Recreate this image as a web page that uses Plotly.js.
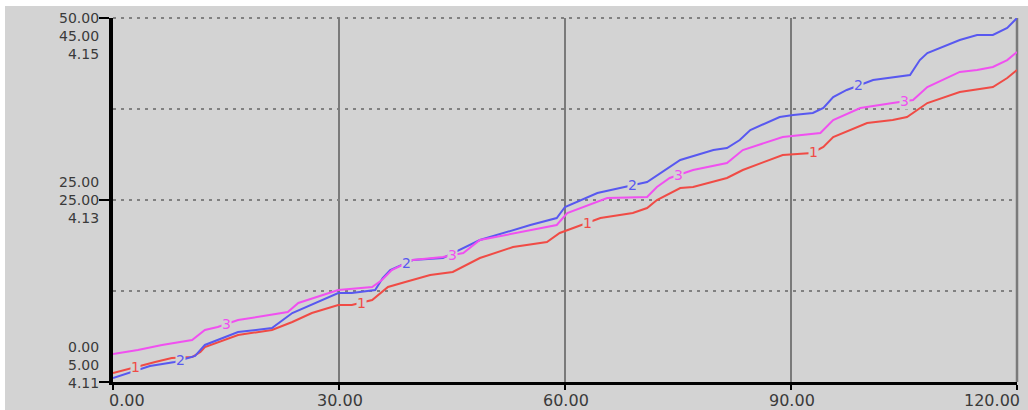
<!DOCTYPE html>
<html>
<head>
<meta charset="utf-8">
<script src="https://cdn.plot.ly/plotly-3.0.1.min.js"></script>
<style>
  html, body { margin: 0; padding: 0; background: #ffffff; width: 1028px; height: 410px; overflow: hidden; }
  #chart { position: absolute; left: 5px; top: 6px; width: 1023px; height: 404px; }
</style>
</head>
<body>
<div id="chart"></div>
<script>
// ---- data ----
const time1 = [0,2.9,5.6,7.8,10.5,11.6,12.2,16.6,21.1,23.8,26.4,29.9,31.7,34.4,36.5,38.8,42.1,45.1,48.7,53.1,57.6,59.3,61.1,64.7,69.0,70.9,72.2,75.3,77.0,81.5,83.6,88.9,92.8,94.3,95.6,100.1,103.5,105.4,108.1,112.4,116.8,118.7,120];
const series1 = [1.24,2.06,2.75,3.30,3.43,4.12,4.81,6.46,7.14,8.24,9.48,10.58,10.58,11.26,13.05,13.74,14.70,15.11,17.03,18.54,19.23,20.47,21.15,22.53,23.21,23.90,25.00,26.65,26.79,28.02,29.12,31.18,31.46,32.28,33.65,35.58,35.99,36.40,38.32,39.84,40.52,41.76,42.86];

const time2 = [0,2.3,4.9,8.2,10.9,12.2,16.6,21.1,23.8,29.9,31.7,34.8,35.8,36.8,39.8,43.8,48.7,55.4,58.9,60.0,64.3,67.3,70.9,75.3,79.7,81.5,83.2,84.6,88.5,90.3,92.9,94.3,95.6,97.4,100.9,105.8,107.1,108.1,112.4,114.7,116.8,118.7,120];
const series2 = [5.44,6.10,6.76,7.20,7.86,9.07,10.49,10.93,12.58,14.78,14.78,15.11,16.43,17.31,18.41,18.63,20.60,22.25,23.02,24.23,25.77,26.32,26.98,29.40,30.49,30.71,31.59,32.69,34.12,34.34,34.56,35.11,36.32,37.09,38.19,38.74,40.38,41.15,42.58,43.13,43.13,43.90,45.00];

const time3 = [0,3.3,6.5,10.5,12.2,13.9,16.6,21.1,23.2,24.6,29.9,34.4,35.7,37.0,39.8,43.8,46.5,48.7,55.4,58.9,60.3,65.6,70.9,72.2,73.9,77.0,81.5,83.6,88.9,93.9,95.6,99.2,103.5,106.2,108.1,112.4,114.7,116.8,118.7,120];
const series3 = [4.11308,4.11352,4.11407,4.11462,4.11571,4.11604,4.11681,4.11736,4.11769,4.11868,4.12011,4.12044,4.12121,4.12231,4.12341,4.12374,4.12418,4.12560,4.12670,4.12725,4.12857,4.13022,4.13033,4.13143,4.13242,4.13330,4.13407,4.13549,4.13692,4.13736,4.13879,4.14011,4.14066,4.14099,4.14242,4.14407,4.14429,4.14462,4.14538,4.14626];

const seriesNames = ['1','2','3'];
const labelTimes1 = [3, 33, 63, 93];
const labelTimes2 = [9, 39, 69, 99];
const labelTimes3 = [15, 45, 75, 105];

const xTickVals = [0, 30, 60, 90, 120];
const xTickText = ['0.00', '30.00', '60.00', '90.00', '120.00'];
const scale1Ticks = ['0.00', '25.00', '50.00'];
const scale2Ticks = ['5.00', '25.00', '45.00'];
const scale3Ticks = ['4.11', '4.13', '4.15'];
const yTickVals = [0, 25, 50];

// ---- styling ----
const BG = '#d3d3d3';
const colors = ['#f04b45', '#5858f0', '#f050f0'];
const txtColor = '#3a3a3a';
const fontFam = 'DejaVu Sans, sans-serif';
const gridDot = '3px,5px';

function interp(ts, vs, t) {
  for (let i = 0; i < ts.length - 1; i++) {
    if (t >= ts[i] && t <= ts[i + 1]) {
      const f = (t - ts[i]) / (ts[i + 1] - ts[i]);
      return vs[i] + f * (vs[i + 1] - vs[i]);
    }
  }
  return vs[vs.length - 1];
}

const traces = [
  { x: time1, y: series1, yaxis: 'y', mode: 'lines', line: { color: colors[0], width: 2 }, name: seriesNames[0] },
  { x: time2, y: series2, yaxis: 'y2', mode: 'lines', line: { color: colors[1], width: 2 }, name: seriesNames[1] },
  { x: time3, y: series3, yaxis: 'y3', mode: 'lines', line: { color: colors[2], width: 2 }, name: seriesNames[2] }
];

const annotations = [];
// series number labels
[[labelTimes1, time1, series1, 'y'], [labelTimes2, time2, series2, 'y2'], [labelTimes3, time3, series3, 'y3']].forEach((s, k) => {
  s[0].forEach(t => {
    annotations.push({
      x: t, y: interp(s[1], s[2], t), xref: 'x', yref: s[3],
      text: seriesNames[k], showarrow: false,
      font: { family: fontFam, size: 14, color: colors[k] },
      bgcolor: BG, borderpad: 0
    });
  });
});
// y tick labels (three stacked scales, one block per tick)
yTickVals.forEach((v, i) => {
  const txt = [scale1Ticks[i], scale2Ticks[i], scale3Ticks[i]].join('<br>');
  let yanchor = 'middle', yshift = 0;
  if (i === yTickVals.length - 1) { yanchor = 'top'; yshift = 10; }
  if (i === 0) { yanchor = 'bottom'; yshift = -11; }
  annotations.push({
    x: 0, xref: 'paper', y: v, yref: 'y',
    xanchor: 'right', yanchor: yanchor, xshift: -12, yshift: yshift,
    text: txt, showarrow: false, align: 'right',
    font: { family: fontFam, size: 14, color: txtColor }
  });
});
// x tick labels
xTickVals.forEach((v, i) => {
  let xanchor = 'center', xshift = 1;
  if (i === 0) { xanchor = 'left'; xshift = -6; }
  if (i === xTickVals.length - 1) { xanchor = 'right'; xshift = 5; }
  annotations.push({
    x: v, xref: 'x', y: 0, yref: 'paper',
    xanchor: xanchor, yanchor: 'middle', xshift: xshift, yshift: -18,
    text: xTickText[i], showarrow: false,
    font: { family: fontFam, size: 16, color: txtColor }
  });
});

const layout = {
  width: 1023, height: 404,
  margin: { l: 108, r: 11, t: 12, b: 28, pad: 0 },
  paper_bgcolor: BG, plot_bgcolor: BG,
  showlegend: false, hovermode: false,
  xaxis: {
    range: [0, 120], tickvals: xTickVals, showticklabels: false,
    ticks: 'outside', ticklen: 5, tickwidth: 2, tickcolor: '#000',
    showline: true, linecolor: '#000', linewidth: 3,
    showgrid: true, gridcolor: '#7a7a7a', gridwidth: 2.5,
    zeroline: false, fixedrange: true
  },
  yaxis: {
    range: [0, 50], tickvals: yTickVals, showticklabels: false,
    ticks: 'outside', ticklen: 10, tickwidth: 2, tickcolor: '#000',
    showline: true, linecolor: '#000', linewidth: 4,
    showgrid: true, gridcolor: '#808080', gridwidth: 2, griddash: gridDot,
    minor: { dtick: 12.5, tick0: 0, showgrid: true, gridcolor: '#808080', gridwidth: 2, griddash: gridDot, ticks: '' },
    zeroline: false, fixedrange: true
  },
  yaxis2: { range: [5, 45], overlaying: 'y', visible: false, fixedrange: true },
  yaxis3: { range: [4.11, 4.15], overlaying: 'y', visible: false, fixedrange: true },
  shapes: [
    { type: 'line', xref: 'paper', yref: 'paper', x0: 0, x1: 1, y0: 1, y1: 1, layer: 'below',
      line: { color: '#808080', width: 2, dash: gridDot } },
    { type: 'line', xref: 'paper', yref: 'paper', x0: 1, x1: 1, y0: 0, y1: 1, layer: 'below',
      line: { color: '#7a7a7a', width: 2.5 } }
  ],
  annotations: annotations
};

Plotly.newPlot('chart', traces, layout, { staticPlot: true, displayModeBar: false });
</script>
</body>
</html>
